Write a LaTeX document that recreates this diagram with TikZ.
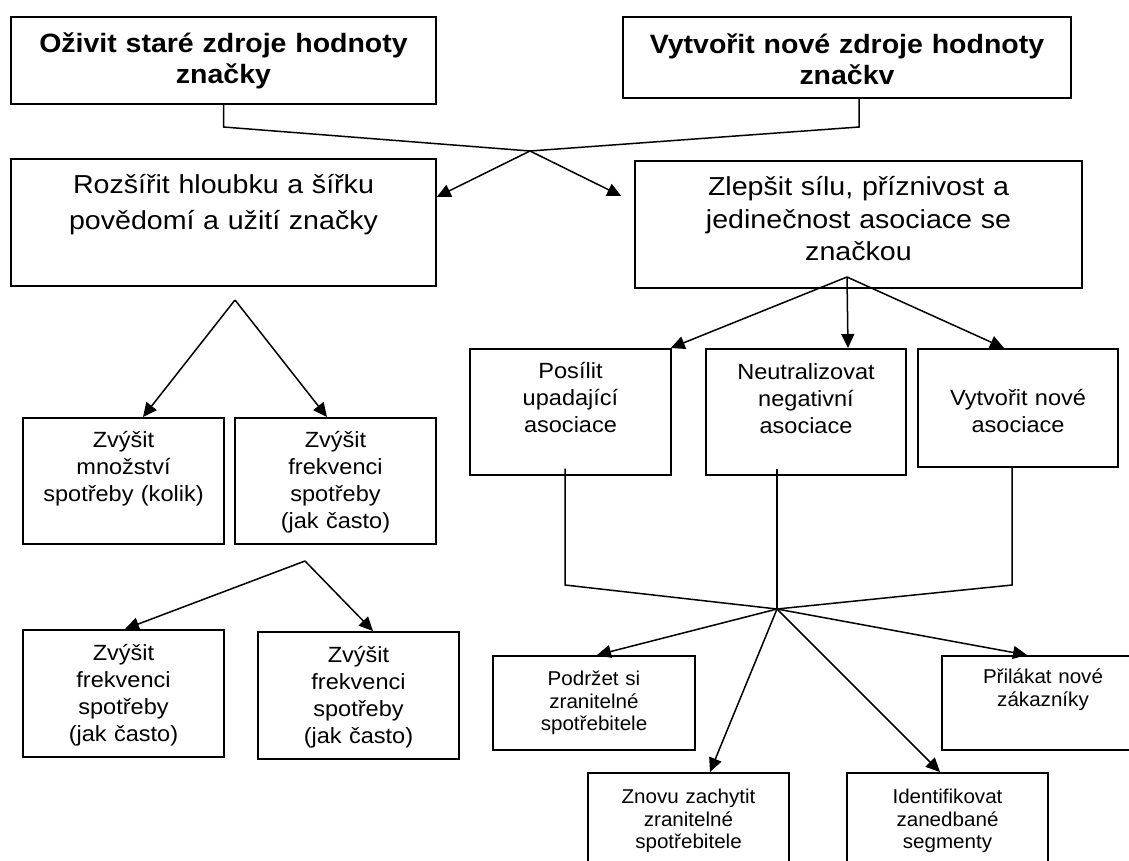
\documentclass[tikz,border=0pt]{standalone}
\usepackage{fontspec}
\setmainfont{Liberation Sans}
\newfontfamily\fbold[FakeStretch=1.075]{Liberation Sans}
\newfontfamily\fbig[FakeStretch=1.1]{Liberation Sans}
\newfontfamily\fsmall[FakeStretch=1.07]{Liberation Sans}
\newfontfamily\ftiny[FakeStretch=1.03]{Liberation Sans}
\usetikzlibrary{arrows.meta}
\tikzset{
  box/.style={draw=black, line width=1.5pt, anchor=north, align=center, inner xsep=0pt, inner ysep=0pt},
  topf/.style={font={\fbold\bfseries\fontsize{26.5}{31}\selectfont}},
  bigf/.style={font={\fbig\fontsize{26}{36}\selectfont}},
  smallf/.style={font={\fsmall\fontsize{22}{27}\selectfont}},
  tinyf/.style={font={\ftiny\fontsize{20}{22.5}\selectfont}},
  conn/.style={line width=1.5pt, black},
  arr/.style={conn, -{Triangle[length=14pt,width=13pt]}}
}
\begin{document}
\begin{tikzpicture}[x=1pt,y=-1pt]
\useasboundingbox (0,0) rectangle (1129,860);
\clip (0,0) rectangle (1129,860);
\fill[white] (0,0) rectangle (1129,860);
% top level
\node[box, topf, text width=425pt, text height=36pt, text depth=51pt] (o1) at (223.5,16) {Oživit staré zdroje hodnoty\\značky};
\node[box, topf, text width=448pt, text height=37pt, text depth=44pt] (o2) at (847,16) {Vytvořit nové zdroje hodnoty\\značkv};
% second level
\node[box, bigf, text width=425pt, text height=35pt, text depth=92pt] (r1) at (223.5,158) {Rozšířit hloubku a šířku\\povědomí a užití značky};
\node[box, bigf, text width=447pt, text height=35pt, text depth=92pt, font={\fbig\fontsize{26}{32.5}\selectfont}] (r2) at (858.5,160) {Zlepšit sílu, příznivost a\\jedinečnost asociace se\\značkou};
% left branch
\node[box, smallf, text width=201pt, text height=30pt, text depth=96pt] (z1) at (123.5,417) {Zvýšit\\množství\\spotřeby (kolik)};
\node[box, smallf, text width=201pt, text height=30pt, text depth=96pt] (z2) at (335.5,417) {Zvýšit\\frekvenci\\spotřeby\\(jak často)};
\node[box, smallf, text width=201pt, text height=31pt, text depth=96pt] (z3) at (123.5,629) {Zvýšit\\frekvenci\\spotřeby\\(jak často)};
\node[box, smallf, text width=201pt, text height=31pt, text depth=96pt] (z4) at (358.5,631) {Zvýšit\\frekvenci\\spotřeby\\(jak často)};
% right branch
\node[box, smallf, text width=201pt, text height=30pt, text depth=96pt] (p1) at (570.5,348) {Posílit\\upadající\\asociace};
\node[box, smallf, text width=200pt, text height=31pt, text depth=95pt] (p2) at (806,348) {Neutralizovat\\negativní\\asociace};
\node[box, smallf, text width=200pt, text height=57pt, text depth=61pt] (p3) at (1018,348) {Vytvořit nové\\asociace};
\node[box, tinyf, text width=202pt, text height=30pt, text depth=64pt] (q1) at (594,655) {Podržet si\\zranitelné\\spotřebitele};
\node[box, tinyf, text width=201pt, text height=31pt, text depth=79pt] (q2) at (688.5,772) {Znovu zachytit\\zranitelné\\spotřebitele};
\node[box, tinyf, text width=201pt, text height=31pt, text depth=79pt] (q3) at (947.5,772) {Identifikovat\\zanedbané\\segmenty};
\node[box, tinyf, text width=202pt, text height=28pt, text depth=66pt] (q4) at (1043,655) {Přilákat nové\\zákazníky};
% junction coordinates
\coordinate (k1) at (223.5,127);
\coordinate (k2) at (859,127);
\coordinate (mT) at (530,151);
\coordinate (aL) at (235,300);
\coordinate (aL2) at (305,561);
\coordinate (aR) at (847,277);
\coordinate (c1) at (565,585);
\coordinate (c3) at (1012,585);
\coordinate (mB) at (777,609);
% top connectors
\draw[conn] (o1.south) -- (k1) -- (mT);
\draw[conn] (o2.south -| k2) -- (k2) -- (mT);
\draw[arr] (mT) -- ([yshift=-39pt]r1.north east);
\draw[arr] (mT) -- ([xshift=-13pt,yshift=-36pt]r2.north west);
% left branch
\draw[arr] (aL) -- ([xshift=19.5pt]z1.north);
\draw[arr] (aL) -- ([xshift=-8.5pt]z2.north);
\draw[arr] (aL2) -- ([xshift=1.5pt]z3.north);
\draw[arr] (aL2) -- ([xshift=14.5pt]z4.north);
% right branch
\draw[arr] (aR) -- ([xshift=-1pt]p1.north east);
\draw[arr] (aR) -- ([xshift=42pt]p2.north);
\draw[arr] (aR) -- ([xshift=-14pt]p3.north);
\draw[conn] (p1.south -| c1) ++(0,-7) -- (c1) -- (mB);
\draw[conn] (p2.south -| mB) ++(0,-7) -- (mB);
\draw[conn] (p3.south -| c3) -- (c3) -- (mB);
\draw[arr] (mB) -- ([xshift=3pt]q1.north);
\draw[arr] (mB) -- ([xshift=21.5pt]q2.north);
\draw[arr] (mB) -- ([xshift=-7.5pt]q3.north);
\draw[arr] (mB) -- ([xshift=-16pt]q4.north);
\end{tikzpicture}
\end{document}
